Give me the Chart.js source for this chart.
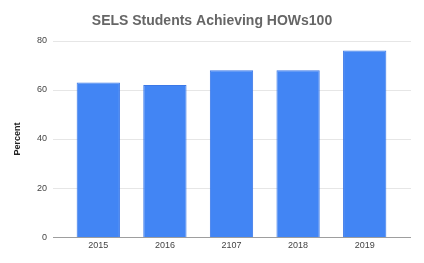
<!DOCTYPE html>
<html>
<head>
<meta charset="utf-8">
<script src="https://cdn.jsdelivr.net/npm/chart.js@4"></script>
<style>
  html, body { margin: 0; padding: 0; background: #fff; }
  #wrap { width: 424px; height: 263px; }
</style>
</head>
<body>
<div id="wrap"><canvas id="chart" width="424" height="263"></canvas></div>
<script>
// Chart data
const years = ["2015", "2016", "2107", "2018", "2019"];
const percent = [63, 62, 68, 68, 76];
const yTicks = [0, 20, 40, 60, 80];

// gridlines reach a bit past the bar area, like the sheets chart
const wideGrid = {
  id: "wideGrid",
  beforeDatasetsDraw(chart) {
    const { ctx, chartArea, scales } = chart;
    ctx.save();
    ctx.lineWidth = 1;
    scales.y.ticks.forEach(t => {
      const y = Math.round(scales.y.getPixelForValue(t.value)) + 0.5;
      ctx.strokeStyle = t.value === 0 ? "#9e9e9e" : "#e6e6e6";
      ctx.beginPath();
      ctx.moveTo(chartArea.left - 12, y);
      ctx.lineTo(chartArea.right + 13, y);
      ctx.stroke();
    });
    ctx.restore();
  }
};

const canvas = document.getElementById("chart");
new Chart(canvas, {
  type: "bar",
  data: {
    labels: years,
    datasets: [{
      label: "Percent",
      data: percent,
      backgroundColor: "#4285F4",
      borderColor: "#3b78e7",
      borderWidth: 1,
      categoryPercentage: 1,
      barPercentage: 0.65
    }]
  },
  options: {
    responsive: false,
    animation: false,
    layout: { padding: { left: 26, right: 26, top: 0, bottom: 9 } },
    scales: {
      y: {
        min: 0,
        max: 80,
        afterBuildTicks: axis => { axis.ticks = yTicks.map(v => ({ value: v })); },
        afterFit: axis => { axis.width = 39; },
        grid: { display: false, drawTicks: false },
        border: { display: false },
        ticks: { color: "#444", font: { family: "Arial, Liberation Sans", size: 9 }, padding: 18 },
        title: {
          display: true,
          text: "Percent",
          color: "#222",
          font: { family: "Arial, Liberation Sans", size: 9, weight: "bold" },
          padding: { top: -14, bottom: 0 }
        }
      },
      x: {
        grid: { display: false, drawTicks: false },
        border: { display: false },
        ticks: { color: "#444", font: { family: "Arial, Liberation Sans", size: 9 }, padding: 3 }
      }
    },
    plugins: {
      legend: { display: false },
      tooltip: { enabled: false },
      title: {
        display: true,
        text: "SELS Students Achieving HOWs100",
        color: "#666",
        font: { family: "Arial, Liberation Sans", size: 14, weight: "bold" },
        padding: { top: 13, bottom: 11 }
      }
    }
  },
  plugins: [wideGrid]
});
</script>
</body>
</html>
